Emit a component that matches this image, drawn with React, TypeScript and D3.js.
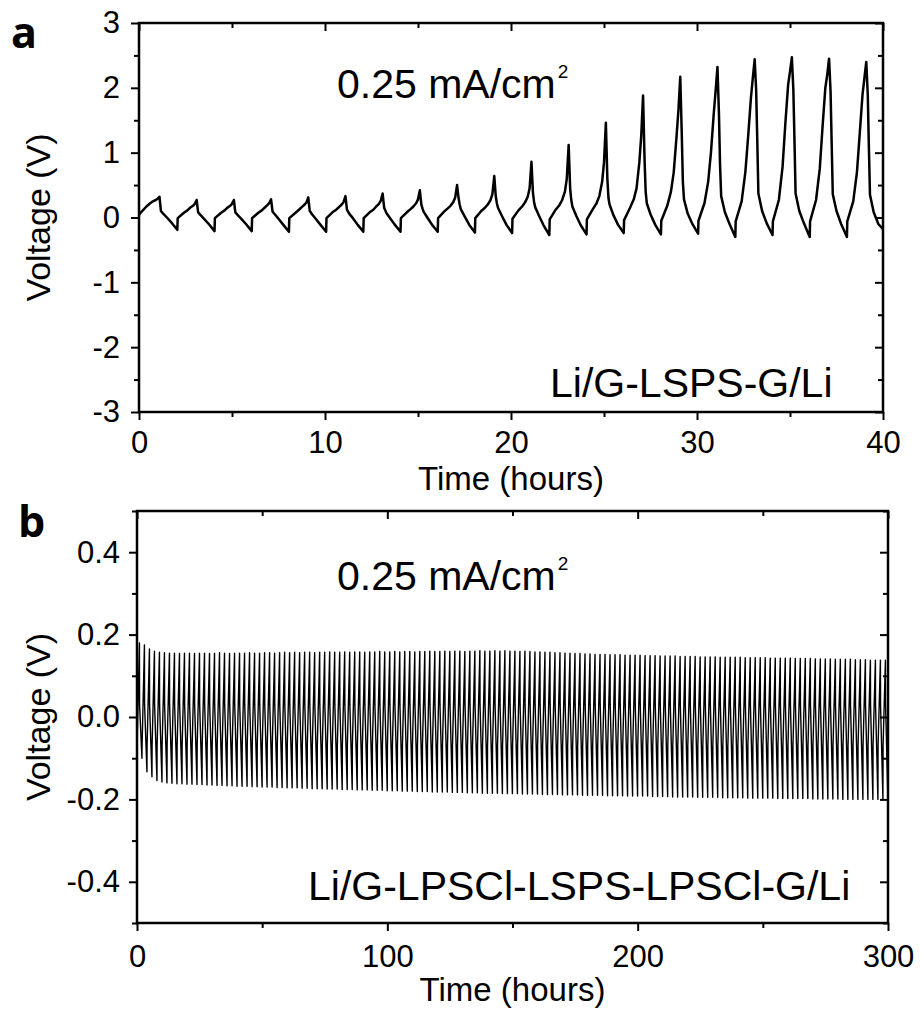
import React, { useEffect, useRef } from "react";
import * as d3 from "d3";

const FONT = "'Liberation Sans', Arial, sans-serif";

// ---- panel a: Li/G-LSPS-G/Li, 2 h cycles (charge 1 h / discharge 1 h)
// time offset (h) inside each cycle for the columns of cyclesA
const phaseA = [0.08, 0.4, 0.6, 0.75, 0.9, 1.0, 1.1, 1.18, 1.24, 1.3, 1.5, 1.75, 2.06];
const startA = [0, 0.04];
// voltage (V) per cycle: jump, rising part..., peak, falling part..., trough
const cyclesA = [
  [0.07, 0.17, 0.22, 0.25, 0.27, 0.29, 0.32, 0.1, 0.08, 0.06, 0.0, -0.08, -0.19],
  [-0.01, 0.07, 0.11, 0.15, 0.18, 0.21, 0.27, 0.08, 0.06, 0.04, -0.02, -0.1, -0.21],
  [-0.01, 0.07, 0.11, 0.15, 0.18, 0.21, 0.27, 0.08, 0.06, 0.04, -0.02, -0.1, -0.21],
  [-0.01, 0.07, 0.11, 0.15, 0.19, 0.22, 0.28, 0.09, 0.07, 0.05, -0.02, -0.11, -0.22],
  [-0.01, 0.07, 0.12, 0.16, 0.2, 0.23, 0.31, 0.1, 0.08, 0.05, -0.02, -0.11, -0.22],
  [-0.01, 0.08, 0.12, 0.16, 0.2, 0.24, 0.33, 0.12, 0.09, 0.06, -0.01, -0.11, -0.22],
  [-0.01, 0.08, 0.12, 0.17, 0.21, 0.26, 0.37, 0.15, 0.11, 0.07, -0.01, -0.11, -0.22],
  [-0.01, 0.08, 0.13, 0.17, 0.22, 0.28, 0.42, 0.2, 0.14, 0.09, 0.0, -0.11, -0.22],
  [-0.01, 0.09, 0.14, 0.18, 0.24, 0.31, 0.5, 0.3, 0.2, 0.13, 0.02, -0.11, -0.23],
  [-0.01, 0.1, 0.15, 0.2, 0.27, 0.36, 0.64, 0.33, 0.22, 0.15, 0.03, -0.11, -0.24],
  [-0.02, 0.11, 0.17, 0.23, 0.32, 0.45, 0.86, 0.38, 0.24, 0.16, 0.03, -0.12, -0.27],
  [-0.03, 0.12, 0.19, 0.27, 0.4, 0.6, 1.12, 0.45, 0.27, 0.17, 0.03, -0.12, -0.26],
  [-0.03, 0.13, 0.22, 0.33, 0.55, 0.85, 1.46, 0.6, 0.3, 0.2, 0.04, -0.11, -0.24],
  [-0.04, 0.15, 0.28, 0.45, 0.85, 1.25, 1.88, 0.9, 0.4, 0.22, 0.05, -0.11, -0.26],
  [-0.05, 0.18, 0.4, 0.7, 1.25, 1.65, 2.17, 1.3, 0.55, 0.28, 0.06, -0.1, -0.25],
  [-0.05, 0.22, 0.55, 1.0, 1.6, 1.95, 2.32, 1.6, 0.8, 0.33, 0.08, -0.1, -0.3],
  [-0.06, 0.25, 0.7, 1.25, 1.85, 2.15, 2.44, 1.97, 1.2, 0.37, 0.1, -0.09, -0.27],
  [-0.06, 0.27, 0.78, 1.45, 2.05, 2.25, 2.47, 1.97, 1.2, 0.37, 0.1, -0.09, -0.3],
  [-0.06, 0.27, 0.75, 1.4, 2.0, 2.2, 2.45, 1.95, 1.15, 0.36, 0.1, -0.1, -0.3],
  [-0.06, 0.25, 0.7, 1.3, 1.9, 2.15, 2.4, 1.9, 1.1, 0.35, 0.08, -0.1, -0.2],
];
const xTicksA = [0, 10, 20, 30, 40];
const xMinorA = [5, 15, 25, 35];
const yTicksA = [-3, -2, -1, 0, 1, 2, 3];
const yMinorA = [-2.5, -1.5, -0.5, 0.5, 1.5, 2.5];

// ---- panel b: Li/G-LPSCl-LSPS-LPSCl-G/Li, 150 cycles of 2 h
const phaseB = [0.03, 0.97, 1.03, 1.97];
const startB = [0, 0.1];
const jumpB = -0.07; // voltage right after the step up at start of charge
const dropB = 0.03; // voltage right after the step down at start of discharge
const peakB = [
  0.18, 0.175, 0.165, 0.16, 0.157, 0.156, 0.155, 0.155, 0.154, 0.155,
  0.155, 0.154, 0.155, 0.155, 0.154, 0.155, 0.156, 0.155, 0.154, 0.155,
  0.155, 0.155, 0.156, 0.155, 0.155, 0.156, 0.156, 0.155, 0.156, 0.157,
  0.156, 0.157, 0.156, 0.157, 0.157, 0.156, 0.157, 0.157, 0.158, 0.157,
  0.157, 0.158, 0.157, 0.158, 0.158, 0.157, 0.158, 0.158, 0.159, 0.158,
  0.158, 0.159, 0.158, 0.159, 0.159, 0.158, 0.159, 0.159, 0.16, 0.159,
  0.159, 0.16, 0.159, 0.16, 0.16, 0.159, 0.16, 0.16, 0.161, 0.16,
  0.16, 0.161, 0.16, 0.161, 0.16, 0.16, 0.159, 0.16, 0.159, 0.158,
  0.158, 0.157, 0.157, 0.156, 0.156, 0.155, 0.155, 0.154, 0.154, 0.153,
  0.153, 0.152, 0.152, 0.152, 0.151, 0.151, 0.151, 0.15, 0.15, 0.15,
  0.15, 0.149, 0.149, 0.149, 0.148, 0.148, 0.148, 0.148, 0.147, 0.147,
  0.147, 0.147, 0.146, 0.146, 0.146, 0.146, 0.145, 0.145, 0.145, 0.145,
  0.145, 0.144, 0.144, 0.144, 0.144, 0.144, 0.143, 0.143, 0.143, 0.143,
  0.143, 0.142, 0.142, 0.142, 0.142, 0.141, 0.141, 0.141, 0.141, 0.14,
  0.14, 0.14, 0.14, 0.139, 0.139, 0.139, 0.138, 0.138, 0.138, 0.138,
];
const troughB = [
  -0.1, -0.133, -0.145, -0.154, -0.158, -0.16, -0.161, -0.162, -0.162, -0.163,
  -0.163, -0.164, -0.164, -0.165, -0.165, -0.166, -0.166, -0.167, -0.167, -0.168,
  -0.168, -0.168, -0.169, -0.169, -0.17, -0.17, -0.17, -0.171, -0.171, -0.172,
  -0.172, -0.172, -0.173, -0.173, -0.174, -0.174, -0.174, -0.175, -0.175, -0.175,
  -0.176, -0.176, -0.176, -0.177, -0.177, -0.177, -0.178, -0.178, -0.178, -0.179,
  -0.179, -0.179, -0.18, -0.18, -0.18, -0.181, -0.181, -0.181, -0.182, -0.182,
  -0.182, -0.182, -0.183, -0.183, -0.183, -0.184, -0.184, -0.184, -0.185, -0.185,
  -0.185, -0.185, -0.186, -0.186, -0.186, -0.186, -0.187, -0.187, -0.187, -0.187,
  -0.188, -0.188, -0.188, -0.188, -0.189, -0.189, -0.189, -0.189, -0.19, -0.19,
  -0.19, -0.19, -0.19, -0.191, -0.191, -0.191, -0.191, -0.192, -0.192, -0.192,
  -0.192, -0.192, -0.193, -0.193, -0.193, -0.193, -0.194, -0.194, -0.194, -0.194,
  -0.194, -0.195, -0.195, -0.195, -0.195, -0.195, -0.196, -0.196, -0.196, -0.196,
  -0.196, -0.197, -0.197, -0.197, -0.197, -0.197, -0.197, -0.198, -0.198, -0.198,
  -0.198, -0.198, -0.198, -0.198, -0.199, -0.199, -0.199, -0.199, -0.199, -0.199,
  -0.2, -0.2, -0.2, -0.2, -0.2, -0.2, -0.2, -0.2, -0.2, -0.2,
];
const xTicksB = [0, 100, 200, 300];
const xMinorB = [50, 150, 250];
const yTicksB = [-0.4, -0.2, 0, 0.2, 0.4];
const yMinorB = [-0.5, -0.3, -0.1, 0.1, 0.3, 0.5];

const pointsA = [startA].concat(
  ...cyclesA.map((row, k) => row.map((v, i) => [2 * k + phaseA[i], v]))
);
const pointsB = [startB].concat(
  ...peakB.map((p, k) => {
    const vals = [jumpB, p, dropB, troughB[k]];
    return vals.map((v, i) => [2 * k + phaseB[i], v]);
  })
);

const drawPanel = (svg, p) => {
  const x = d3.scaleLinear().domain(p.xDomain).range([p.left, p.right]);
  const y = d3.scaleLinear().domain(p.yDomain).range([p.bottom, p.top]);
  const g = svg.append("g");

  svg
    .append("defs")
    .append("clipPath")
    .attr("id", `clip-${p.id}`)
    .append("rect")
    .attr("x", p.left)
    .attr("y", p.top)
    .attr("width", p.right - p.left)
    .attr("height", p.bottom - p.top);

  // data line
  const line = d3
    .line()
    .x((d) => x(d[0]))
    .y((d) => y(d[1]));
  g.append("path")
    .datum(p.points)
    .attr("clip-path", `url(#clip-${p.id})`)
    .attr("fill", "none")
    .attr("stroke", "#000")
    .attr("stroke-width", p.lineWidth)
    .attr("stroke-linejoin", "round")
    .attr("d", line);

  // axes with ticks
  const addAxis = (axis, transform) => {
    const a = g.append("g").attr("transform", transform).call(axis);
    a.select(".domain").remove();
    a.selectAll("line").attr("stroke", "#000").attr("stroke-width", 2);
    a.attr("font-family", FONT).attr("font-size", 31);
    a.selectAll("text").attr("fill", "#000");
    return a;
  };
  const none = () => "";

  addAxis(
    d3.axisBottom(x).tickValues(p.xTicks).tickSize(8).tickPadding(p.xPad).tickFormat((d) => String(d)),
    `translate(0,${p.bottom})`
  );
  addAxis(d3.axisBottom(x).tickValues(p.xMinor).tickSize(5).tickFormat(none), `translate(0,${p.bottom})`);
  addAxis(d3.axisTop(x).tickValues(p.xTicks).tickSize(-8).tickFormat(none), `translate(0,${p.top})`);
  addAxis(d3.axisTop(x).tickValues(p.xMinor).tickSize(-5).tickFormat(none), `translate(0,${p.top})`);

  addAxis(
    d3.axisLeft(y).tickValues(p.yTicks).tickSize(8).tickPadding(p.yPad).tickFormat(p.yFormat),
    `translate(${p.left},0)`
  );
  addAxis(d3.axisLeft(y).tickValues(p.yMinor).tickSize(5).tickFormat(none), `translate(${p.left},0)`);
  addAxis(d3.axisRight(y).tickValues(p.yTicks).tickSize(-8).tickFormat(none), `translate(${p.right},0)`);
  addAxis(d3.axisRight(y).tickValues(p.yMinor).tickSize(-5).tickFormat(none), `translate(${p.right},0)`);

  // frame
  g.append("rect")
    .attr("x", p.left)
    .attr("y", p.top)
    .attr("width", p.right - p.left)
    .attr("height", p.bottom - p.top)
    .attr("fill", "none")
    .attr("stroke", "#000")
    .attr("stroke-width", 2.5);

  // axis titles
  g.append("text")
    .attr("x", (p.left + p.right) / 2)
    .attr("y", p.xTitleY)
    .attr("text-anchor", "middle")
    .attr("font-family", FONT)
    .attr("font-size", 33)
    .text("Time (hours)");
  g.append("text")
    .attr("transform", `translate(50,${(p.top + p.bottom) / 2}) rotate(-90)`)
    .attr("text-anchor", "middle")
    .attr("font-family", FONT)
    .attr("font-size", 34)
    .text("Voltage (V)");

  // current density note
  const note = g
    .append("text")
    .attr("x", 337)
    .attr("y", p.top + p.noteDy)
    .attr("font-family", FONT)
    .attr("font-size", 41);
  note.append("tspan").text("0.25 mA/cm");
  note.append("tspan").attr("dx", 2).attr("dy", -20).attr("font-size", 19).text("2");

  // cell label
  g.append("text")
    .attr("x", p.cellX)
    .attr("y", p.bottom - p.cellDy)
    .attr("font-family", FONT)
    .attr("font-size", 41)
    .text(p.cell);

  // panel letter
  g.append("text")
    .attr("x", p.letterX)
    .attr("y", p.letterY)
    .attr("font-family", "'Open Sans', sans-serif")
    .attr("font-weight", 700)
    .attr("font-size", 43)
    .text(p.letter);
};

const App = () => {
  const svgRef = useRef(null);

  useEffect(() => {
    document.body.style.margin = "0";
    const svg = d3.select(svgRef.current);
    svg.selectAll("*").remove();

    drawPanel(svg, {
      id: "a",
      letter: "a",
      letterX: 11,
      letterY: 48,
      left: 139,
      right: 883,
      top: 23,
      bottom: 412,
      xDomain: [0, 40],
      yDomain: [-3, 3],
      xTicks: xTicksA,
      xMinor: xMinorA,
      yTicks: yTicksA,
      yMinor: yMinorA,
      yFormat: (d) => String(d),
      xPad: 11,
      yPad: 11,
      xTitleY: 490,
      points: pointsA,
      lineWidth: 2.5,
      noteDy: 75,
      cell: "Li/G-LSPS-G/Li",
      cellX: 550,
      cellDy: 15,
    });

    drawPanel(svg, {
      id: "b",
      letter: "b",
      letterX: 18,
      letterY: 537,
      left: 137,
      right: 888,
      top: 511,
      bottom: 923,
      xDomain: [0, 300],
      yDomain: [-0.5, 0.5],
      xTicks: xTicksB,
      xMinor: xMinorB,
      yTicks: yTicksB,
      yMinor: yMinorB,
      yFormat: (d) => d.toFixed(1),
      xPad: 14,
      yPad: 9,
      xTitleY: 1001,
      points: pointsB,
      lineWidth: 1.4,
      noteDy: 79,
      cell: "Li/G-LPSCl-LSPS-LPSCl-G/Li",
      cellX: 308,
      cellDy: 23,
    });
  }, []);

  return <svg ref={svgRef} width="921" height="1015" style={{ display: "block", background: "#fff" }}></svg>;
};

export default App;
